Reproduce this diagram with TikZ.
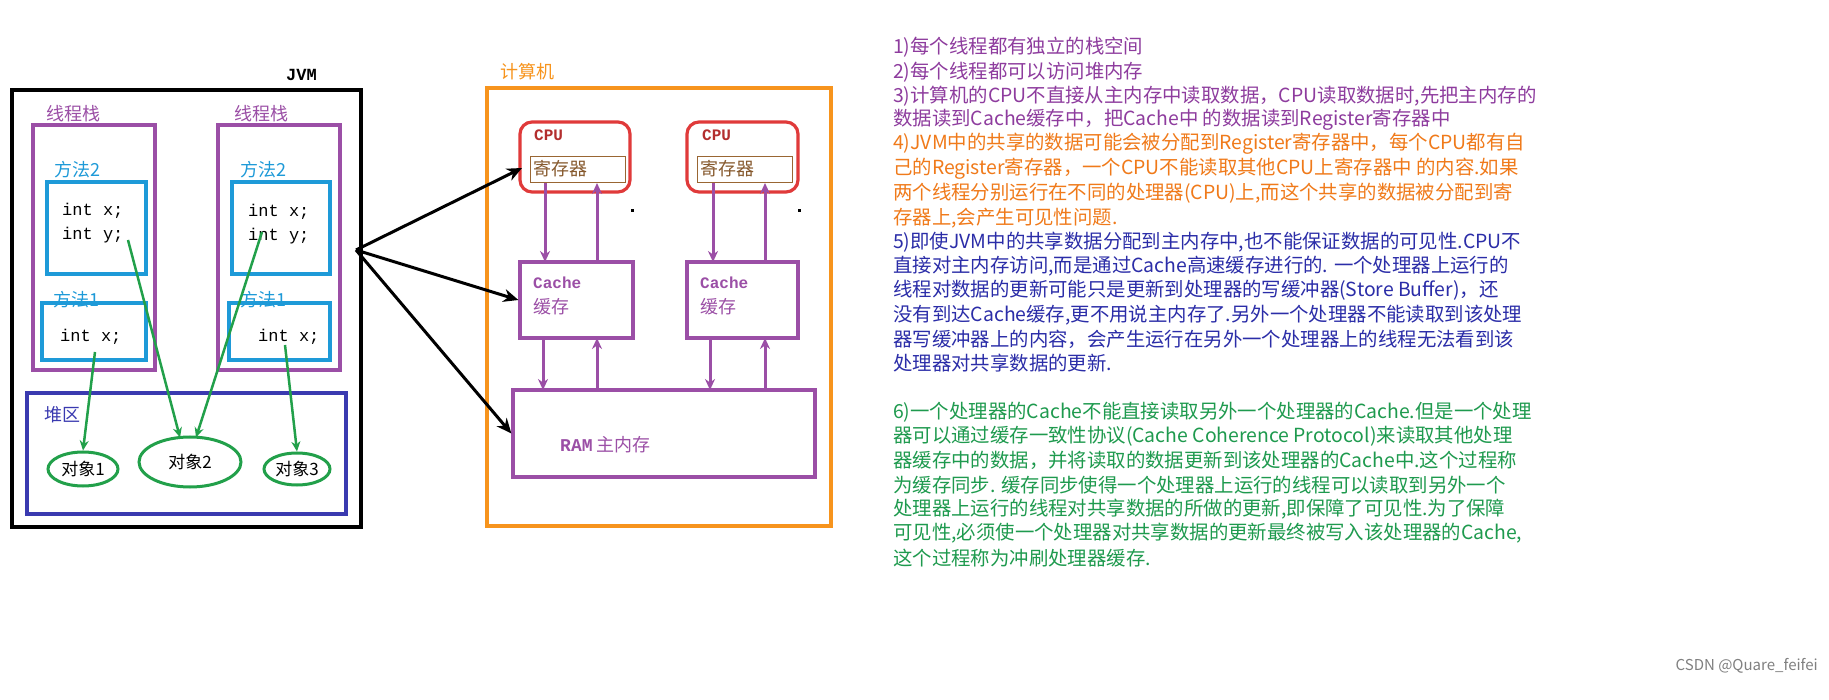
\documentclass[tikz,border=0pt]{standalone}
\usepackage{fontspec}
\setmainfont{Noto Sans CJK SC}
\newfontfamily\monof{Liberation Mono}
\usetikzlibrary{arrows.meta,shapes.geometric,calc}
\definecolor{pur}{HTML}{9B4FA6}
\definecolor{tpur}{HTML}{8E3C9E}
\definecolor{tora}{HTML}{F07A1A}
\definecolor{tblu}{HTML}{2B2DA8}
\definecolor{tgrn}{HTML}{1E9A4E}
\definecolor{sky}{HTML}{1E9AD8}
\definecolor{heap}{HTML}{3A3AB0}
\definecolor{grn}{HTML}{22A04A}
\definecolor{org}{HTML}{F7941D}
\definecolor{cpured}{HTML}{E03A3A}
\begin{document}
\begin{tikzpicture}[x=1pt,y=-1pt,
  box/.style={draw,line width=3.2pt},
  lbl/.style={anchor=west,inner sep=0pt,font=\fontsize{18}{18}\selectfont},
  code/.style={anchor=west,inner sep=0pt,font=\monof\fontsize{17}{17}\selectfont},
  ln/.style={anchor=west,inner sep=0pt,font=\fontsize{19.4}{19.4}\selectfont},
  parr/.style={draw=pur,line width=3pt,-{Stealth[length=11pt,width=10pt]}},
  garr/.style={draw=grn,line width=2.5pt,-{Stealth[length=10pt,width=9pt]}},
  barr/.style={draw=black,line width=3pt,-{Stealth[length=15pt,width=13pt,open]}},
  ell/.style={draw=grn,line width=3pt,ellipse}]
\useasboundingbox (0,0) rectangle (1829,700);
\fill[white] (0,0) rectangle (1829,700);
% JVM
\draw[box] (12,90) rectangle (361,527);
\node[lbl,font=\monof\bfseries\fontsize{17}{17}\selectfont] (jvm) at (286,75) {JVM};
\draw[box,pur] (33,125) rectangle (155,370);
\draw[box,pur] (218,125) rectangle (340,370);
\node[lbl,pur] (ts1) at (46,114) {线程栈};
\node[lbl,pur] (ts2) at (234,114) {线程栈};
\node[lbl,sky] (m21) at (54,170) {方法2};
\node[lbl,sky] (m22) at (240,170) {方法2};
\draw[box,sky] (47,182) rectangle (146,274);
\draw[box,sky] (232,182) rectangle (330,274);
\node[code] (x1) at (62,211) {int x;};
\node[code] (y1) at (62,235) {int y;};
\node[code] (x2) at (248,212) {int x;};
\node[code] (y2) at (248,236) {int y;};
\node[lbl,sky] (m11) at (53,300) {方法1};
\node[lbl,sky] (m12) at (240,300) {方法1};
\draw[box,sky] (42,303) rectangle (146,360);
\draw[box,sky] (229,303) rectangle (330,360);
\node[code] (x3) at (60,337) {int x;};
\node[code] (x4) at (258,337) {int x;};
% heap
\draw[box,heap] (27,393) rectangle (346,514);
\node[lbl,heap] (hp) at (44,415) {堆区};
\node[ell,minimum width=70pt,minimum height=34pt,inner sep=0pt,font=\fontsize{17}{17}\selectfont] (o1) at (83,469) {对象1};
\node[ell,minimum width=102pt,minimum height=50pt,inner sep=0pt,font=\fontsize{17}{17}\selectfont] (o2) at (190,462) {对象2};
\node[ell,minimum width=66pt,minimum height=32pt,inner sep=0pt,font=\fontsize{17}{17}\selectfont] (o3) at (297,469) {对象3};
\coordinate (g1) at (95,352);
\coordinate (g2) at (128,240);
\coordinate (g3) at (262,232);
\coordinate (g4) at (285,345);
\draw[garr] (g1) -- (o1.north);
\draw[garr] (g2) -- ($(o2.north)+(-10,2)$);
\draw[garr] (g3) -- ($(o2.north)+(6,2)$);
\draw[garr] (g4) -- (o3.north);
% computer
\draw[box,org] (487,88) rectangle (831,526);
\node[lbl,org] (pc) at (500,72) {计算机};
\draw[box,cpured,rounded corners=12pt] (520,122) rectangle (630,192);
\draw[box,cpured,rounded corners=12pt] (687,122) rectangle (798,192);
\node[lbl,font=\monof\bfseries\fontsize{16}{16}\selectfont,cpured!80!black] (cpu1) at (534,135) {CPU};
\node[lbl,font=\monof\bfseries\fontsize{16}{16}\selectfont,cpured!80!black] (cpu2) at (702,135) {CPU};
\draw[draw=brown!80!black,line width=1pt] (530,157) rectangle (625,183);
\draw[draw=brown!80!black,line width=1pt] (697,157) rectangle (792,183);
\node[lbl,brown!70!black] (r1) at (533,169) {寄存器};
\node[lbl,brown!70!black] (r2) at (700,169) {寄存器};
\node[box,pur,draw,minimum width=113pt,minimum height=76pt] (c1) at (576.5,300) {};
\node[box,pur,draw,minimum width=111pt,minimum height=76pt] (c2) at (742.5,300) {};
\node[lbl,font=\monof\bfseries\fontsize{16}{16}\selectfont,pur] (c1t) at (533,283) {Cache};
\node[lbl,pur] (c1u) at (533,307) {缓存};
\node[lbl,font=\monof\bfseries\fontsize{16}{16}\selectfont,pur] (c2t) at (700,283) {Cache};
\node[lbl,pur] (c2u) at (700,307) {缓存};
\node[box,pur,draw,minimum width=302pt,minimum height=87pt] (ram) at (664,433.5) {};
\node[lbl,pur] (ramt) at (560,445) {{\monof\bfseries RAM} 主内存};
\draw[parr] (545,183) -- (545,262);
\draw[parr] (597,262) -- (597,183);
\draw[parr] (713,183) -- (713,262);
\draw[parr] (765,262) -- (765,183);
\draw[parr] (543,338) -- (543,390);
\draw[parr] (597,390) -- (597,338);
\draw[parr] (710,338) -- (710,390);
\draw[parr] (765,390) -- (765,338);
\fill[black] (631,209) rectangle (634,212);
\fill[black] (798,209) rectangle (801,212);
% black arrows
\coordinate (src) at (356,250);
\draw[barr] (src) -- (522,168);
\draw[barr] (src) -- (c1.west);
\draw[barr] (src) -- (ram.west);
% notes
\begin{scope}[every node/.style={ln}]
\node[tpur] (t1) at (893,47) {1)每个线程都有独立的栈空间};
\node[tpur] (t2) at (893,72) {2)每个线程都可以访问堆内存};
\node[tpur] (t3) at (893,96) {3)计算机的CPU不直接从主内存中读取数据，CPU读取数据时,先把主内存的};
\node[tpur] (t4) at (893,120) {数据读到Cache缓存中，把Cache中 的数据读到Register寄存器中};
\node[tora] (t5) at (893,144) {4)JVM中的共享的数据可能会被分配到Register寄存器中，每个CPU都有自};
\node[tora] (t6) at (893,169) {己的Register寄存器，一个CPU不能读取其他CPU上寄存器中 的内容.如果};
\node[tora] (t7) at (893,193) {两个线程分别运行在不同的处理器(CPU)上,而这个共享的数据被分配到寄};
\node[tora] (t8) at (893,218) {存器上,会产生可见性问题.};
\node[tblu] (t9) at (893,242) {5)即使JVM中的共享数据分配到主内存中,也不能保证数据的可见性.CPU不};
\node[tblu] (t10) at (893,266) {直接对主内存访问,而是通过Cache高速缓存进行的. 一个处理器上运行的};
\node[tblu] (t11) at (893,290) {线程对数据的更新可能只是更新到处理器的写缓冲器(Store Buffer)，还};
\node[tblu] (t12) at (893,315) {没有到达Cache缓存,更不用说主内存了.另外一个处理器不能读取到该处理};
\node[tblu] (t13) at (893,339) {器写缓冲器上的内容，会产生运行在另外一个处理器上的线程无法看到该};
\node[tblu] (t14) at (893,363) {处理器对共享数据的更新.};
\node[tgrn] (t15) at (893,412) {6)一个处理器的Cache不能直接读取另外一个处理器的Cache.但是一个处理};
\node[tgrn] (t16) at (893,436) {器可以通过缓存一致性协议(Cache Coherence Protocol)来读取其他处理};
\node[tgrn] (t17) at (893,460) {器缓存中的数据，并将读取的数据更新到该处理器的Cache中.这个过程称};
\node[tgrn] (t18) at (893,485) {为缓存同步. 缓存同步使得一个处理器上运行的线程可以读取到另外一个};
\node[tgrn] (t19) at (893,509) {处理器上运行的线程对共享数据的所做的更新,即保障了可见性.为了保障};
\node[tgrn] (t20) at (893,533) {可见性,必须使一个处理器对共享数据的更新最终被写入该处理器的Cache,};
\node[tgrn] (t21) at (893,558) {这个过程称为冲刷处理器缓存.};
\end{scope}
\node[anchor=east,inner sep=0pt,font=\fontsize{15}{15}\selectfont,gray] (csdn) at (1818,666) {CSDN @Quare\_feifei};
\end{tikzpicture}
\end{document}
